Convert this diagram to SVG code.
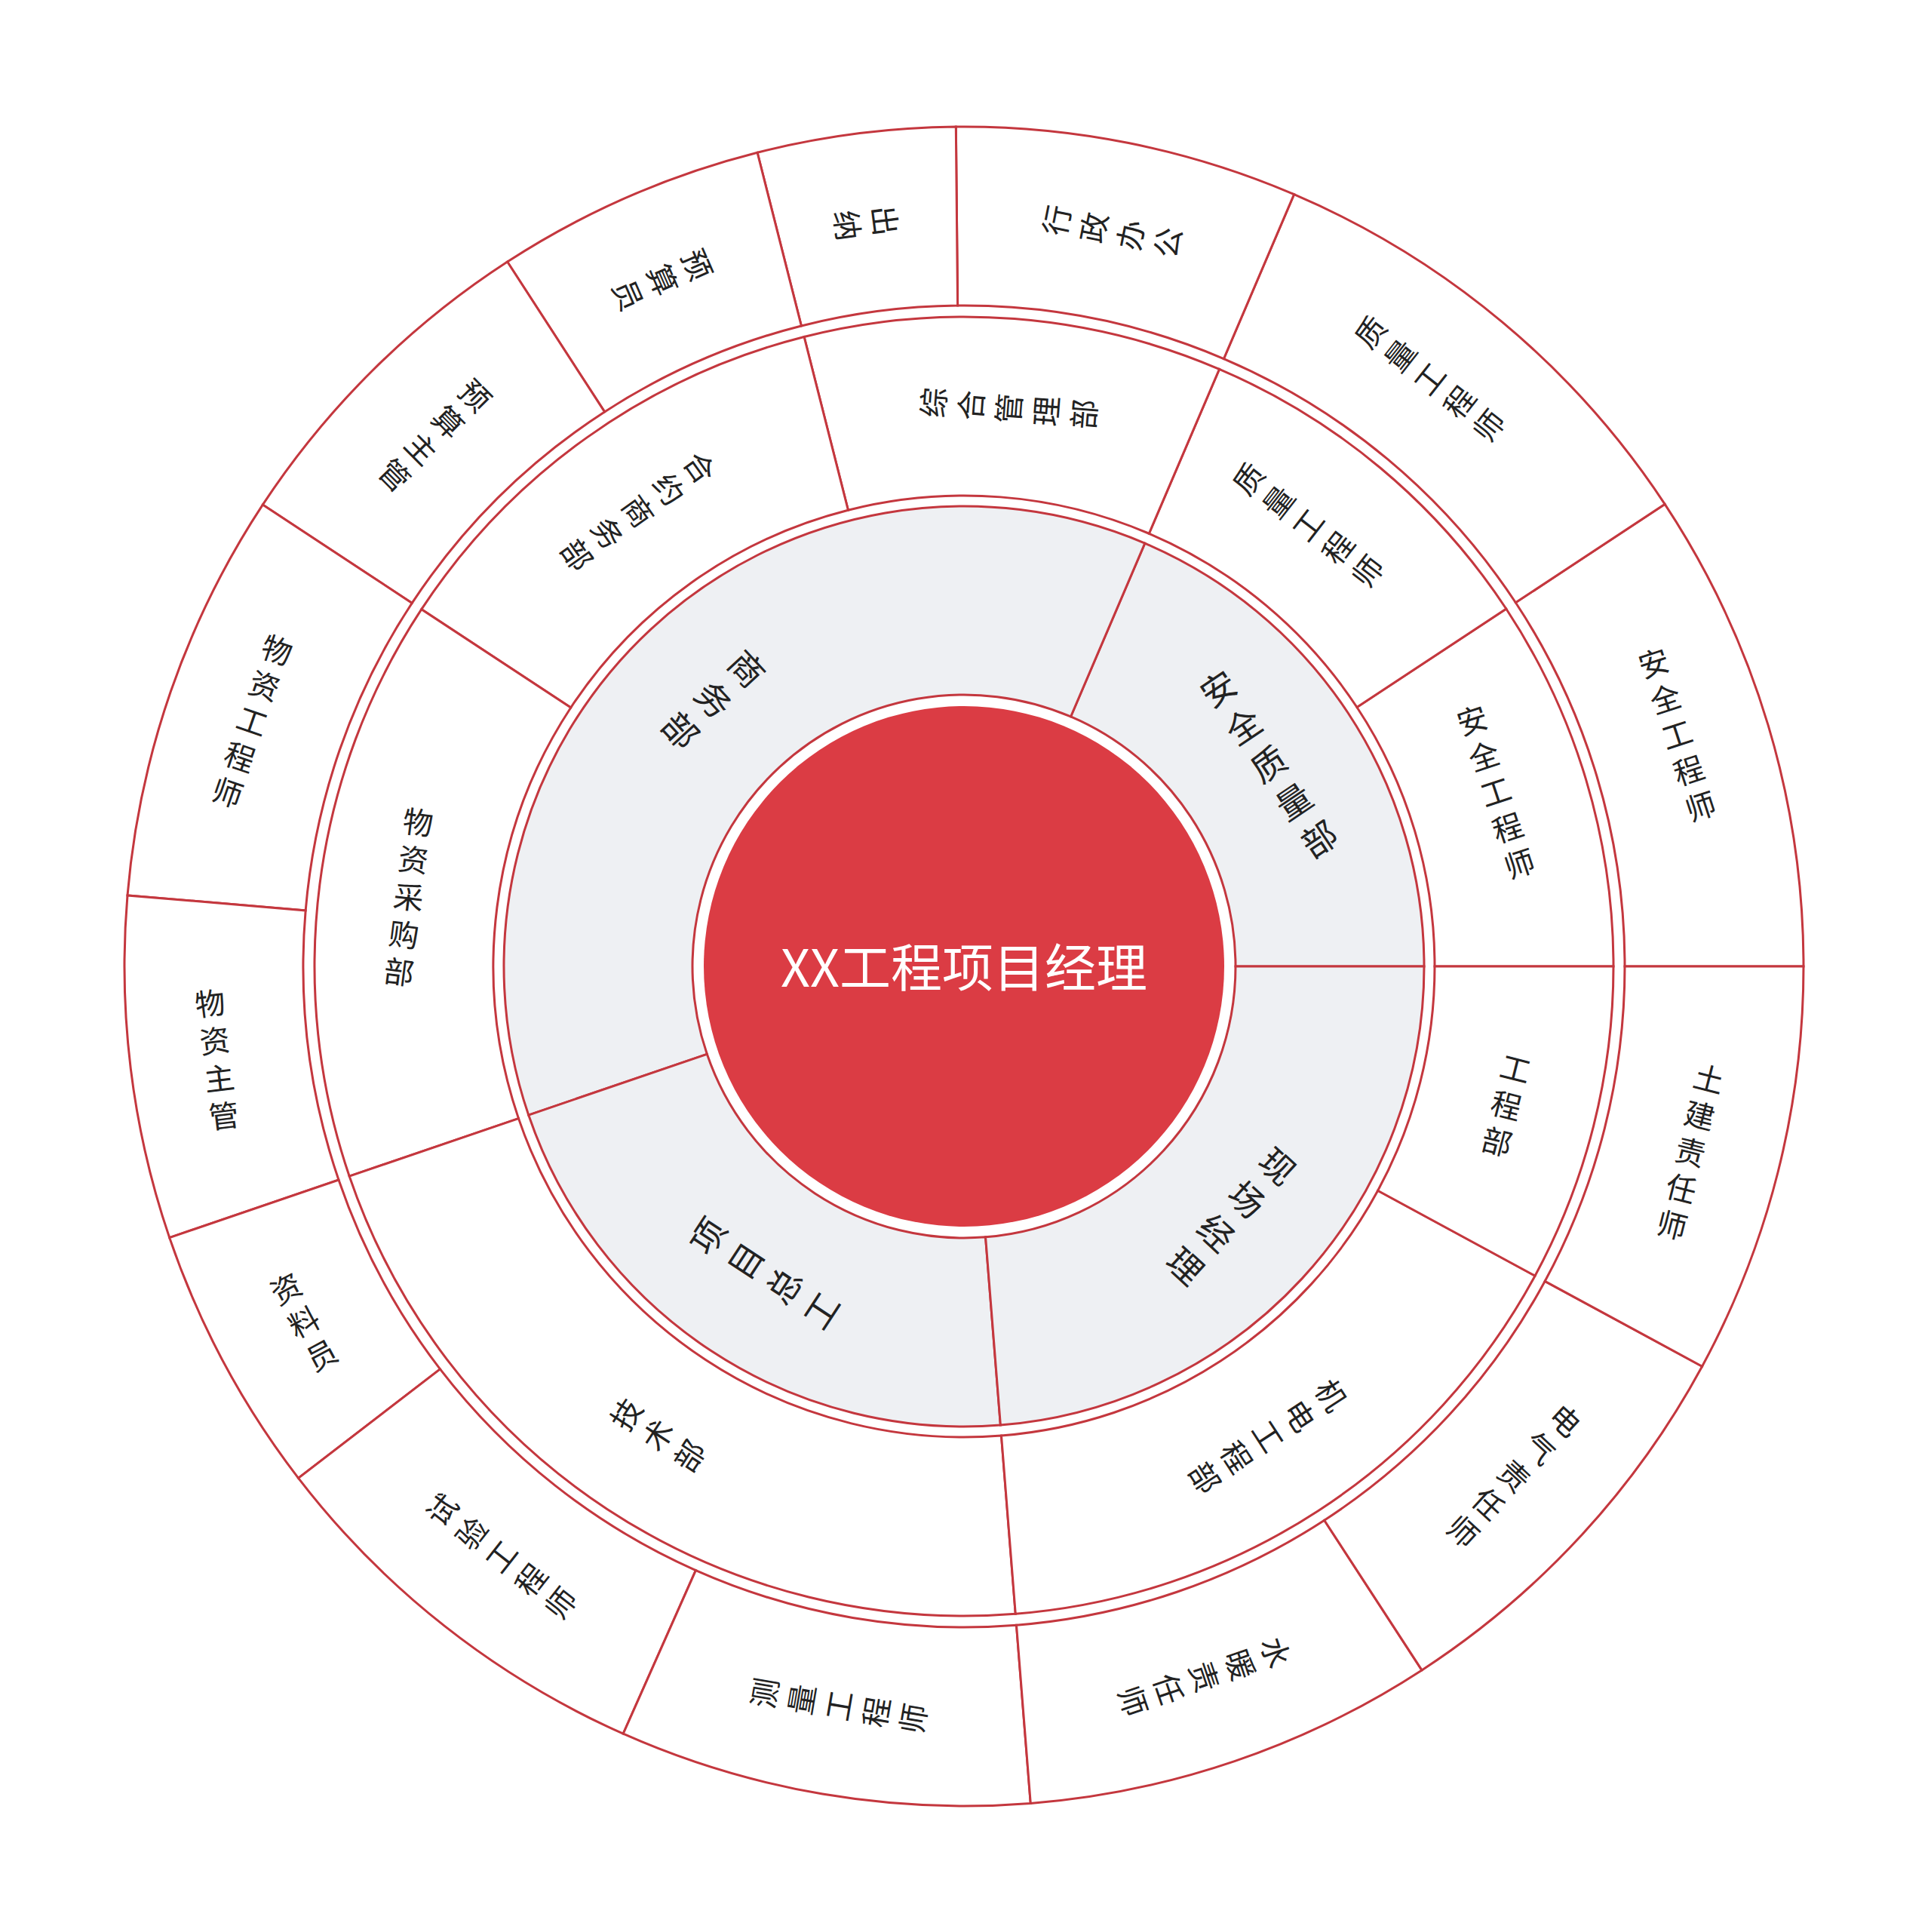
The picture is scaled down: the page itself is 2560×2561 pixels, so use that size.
<svg xmlns="http://www.w3.org/2000/svg" width="2560" height="2561" viewBox="0 0 2560 2561">
<style>
.bg{fill:#ffffff}
.s1{fill:#eef0f3;stroke:#c4373e;stroke-width:3}
.s2,.s3{fill:#ffffff;stroke:#c4373e;stroke-width:3}
.core{fill:#db3c44}
.t{font-family:"Noto Sans CJK SC","Noto Sans",sans-serif;fill:#222222;text-anchor:middle;dominant-baseline:central}
.t1{font-size:46px}
.t2,.t3{font-size:40px}
.tc{font-family:"Noto Sans CJK SC","Noto Sans",sans-serif;fill:#ffffff;font-size:68px;text-anchor:middle;dominant-baseline:central}
</style>
<rect class="bg" x="0" y="0" width="2560" height="2561"/>
<g id="ring1">
<g id="n-anquanzhiliangbu">
<path class="s1" d="M 1888 1281 A 610 610 0 0 0 1517.82 720.12 L 1419.53 949.99 A 360 360 0 0 1 1638 1281 Z"/>
<g transform="translate(1278 1281) rotate(-33.9) translate(485 0)"><text class="t t1"><tspan x="0" y="-120">安</tspan><tspan x="0" y="-60">全</tspan><tspan x="0" y="0">质</tspan><tspan x="0" y="60">量</tspan><tspan x="0" y="120">部</tspan></text></g>
</g>
<g id="n-shangwubu">
<path class="s1" d="M 1517.82 720.12 A 610 610 0 0 0 700.71 1478.09 L 937.31 1397.32 A 360 360 0 0 1 1419.53 949.99 Z"/>
<g transform="translate(1278 1281) rotate(-132.85) translate(485 0) rotate(180)"><text class="t t1"><tspan x="0" y="-60">商</tspan><tspan x="0" y="0">务</tspan><tspan x="0" y="60">部</tspan></text></g>
</g>
<g id="n-xiangmuzonggong">
<path class="s1" d="M 700.71 1478.09 A 610 610 0 0 0 1326.39 1889.08 L 1306.56 1639.87 A 360 360 0 0 1 937.31 1397.32 Z"/>
<g transform="translate(1278 1281) rotate(-236.7) translate(485 0) rotate(180)"><text class="t t1"><tspan x="0" y="-90">项</tspan><tspan x="0" y="-30">目</tspan><tspan x="0" y="30">总</tspan><tspan x="0" y="90">工</tspan></text></g>
</g>
<g id="n-xianchangjingli">
<path class="s1" d="M 1326.39 1889.08 A 610 610 0 0 0 1888 1281 L 1638 1281 A 360 360 0 0 1 1306.56 1639.87 Z"/>
<g transform="translate(1278 1281) rotate(-317.275) translate(485 0)"><text class="t t1"><tspan x="0" y="-90">现</tspan><tspan x="0" y="-30">场</tspan><tspan x="0" y="30">经</tspan><tspan x="0" y="90">理</tspan></text></g>
</g>
</g>
<g id="ring2">
<g id="n-anquangongchengshi-2">
<path class="s2" d="M 2139 1281 A 861 861 0 0 0 1996.81 807.04 L 1798.95 937.5 A 624 624 0 0 1 1902 1281 Z"/>
<g transform="translate(1278 1281) rotate(-18.3) translate(742 0)"><text class="t t2"><tspan x="0" y="-100">安</tspan><tspan x="0" y="-50">全</tspan><tspan x="0" y="0">工</tspan><tspan x="0" y="50">程</tspan><tspan x="0" y="100">师</tspan></text></g>
</g>
<g id="n-zhilianggongchengshi-2">
<path class="s2" d="M 1996.81 807.04 A 861 861 0 0 0 1616.5 489.34 L 1523.33 707.25 A 624 624 0 0 1 1798.95 937.5 Z"/>
<g transform="translate(1278 1281) rotate(-52.2) translate(742 0)"><text class="t t2"><tspan x="0" y="-100">质</tspan><tspan x="0" y="-50">量</tspan><tspan x="0" y="0">工</tspan><tspan x="0" y="50">程</tspan><tspan x="0" y="100">师</tspan></text></g>
</g>
<g id="n-zongheguanlibu">
<path class="s2" d="M 1616.5 489.34 A 861 861 0 0 0 1066.06 446.48 L 1124.4 676.19 A 624 624 0 0 1 1523.33 707.25 Z"/>
<g transform="translate(1278 1281) rotate(-85.55) translate(742 0)"><text class="t t2"><tspan x="0" y="-100">综</tspan><tspan x="0" y="-50">合</tspan><tspan x="0" y="0">管</tspan><tspan x="0" y="50">理</tspan><tspan x="0" y="100">部</tspan></text></g>
</g>
<g id="n-heyueshangwubu">
<path class="s2" d="M 1066.06 446.48 A 861 861 0 0 0 558.77 807.66 L 756.75 937.95 A 624 624 0 0 1 1124.4 676.19 Z"/>
<g transform="translate(1278 1281) rotate(-125.45) translate(742 0) rotate(180)"><text class="t t2"><tspan x="0" y="-100">合</tspan><tspan x="0" y="-50">约</tspan><tspan x="0" y="0">商</tspan><tspan x="0" y="50">务</tspan><tspan x="0" y="100">部</tspan></text></g>
</g>
<g id="n-wuzicaigoubu">
<path class="s2" d="M 558.77 807.66 A 861 861 0 0 0 463.18 1559.19 L 687.47 1482.61 A 624 624 0 0 1 756.75 937.95 Z"/>
<g transform="translate(1278 1281) rotate(-172.75) translate(742 0) rotate(180)"><text class="t t2"><tspan x="0" y="-100">物</tspan><tspan x="0" y="-50">资</tspan><tspan x="0" y="0">采</tspan><tspan x="0" y="50">购</tspan><tspan x="0" y="100">部</tspan></text></g>
</g>
<g id="n-jishubu">
<path class="s2" d="M 463.18 1559.19 A 861 861 0 0 0 1346.3 2139.29 L 1327.5 1903.03 A 624 624 0 0 1 687.47 1482.61 Z"/>
<g transform="translate(1278 1281) rotate(-236.7) translate(742 0) rotate(180)"><text class="t t2"><tspan x="0" y="-50">技</tspan><tspan x="0" y="0">术</tspan><tspan x="0" y="50">部</tspan></text></g>
</g>
<g id="n-jidiangongchengbu">
<path class="s2" d="M 1346.3 2139.29 A 861 861 0 0 0 2035.03 1691.17 L 1826.65 1578.27 A 624 624 0 0 1 1327.5 1903.03 Z"/>
<g transform="translate(1278 1281) rotate(-303.05) translate(742 0)"><text class="t t2"><tspan x="0" y="-100">机</tspan><tspan x="0" y="-50">电</tspan><tspan x="0" y="0">工</tspan><tspan x="0" y="50">程</tspan><tspan x="0" y="100">部</tspan></text></g>
</g>
<g id="n-gongchengbu">
<path class="s2" d="M 2035.03 1691.17 A 861 861 0 0 0 2139 1281 L 1902 1281 A 624 624 0 0 1 1826.65 1578.27 Z"/>
<g transform="translate(1278 1281) rotate(-345.775) translate(742 0)"><text class="t t2"><tspan x="0" y="-50">工</tspan><tspan x="0" y="0">程</tspan><tspan x="0" y="50">部</tspan></text></g>
</g>
</g>
<g id="ring3">
<g id="n-anquangongchengshi-3">
<path class="s3" d="M 2391 1281 A 1113 1113 0 0 0 2207.19 668.32 L 2009.33 798.78 A 876 876 0 0 1 2154 1281 Z"/>
<g transform="translate(1278 1281) rotate(-18.1) translate(994 0)"><text class="t t3"><tspan x="0" y="-100">安</tspan><tspan x="0" y="-50">全</tspan><tspan x="0" y="0">工</tspan><tspan x="0" y="50">程</tspan><tspan x="0" y="100">师</tspan></text></g>
</g>
<g id="n-zhilianggongchengshi-3">
<path class="s3" d="M 2207.19 668.32 A 1113 1113 0 0 0 1715.58 257.63 L 1622.4 475.54 A 876 876 0 0 1 2009.33 798.78 Z"/>
<g transform="translate(1278 1281) rotate(-51.7) translate(994 0)"><text class="t t3"><tspan x="0" y="-100">质</tspan><tspan x="0" y="-50">量</tspan><tspan x="0" y="0">工</tspan><tspan x="0" y="50">程</tspan><tspan x="0" y="100">师</tspan></text></g>
</g>
<g id="n-xingzhengbangong">
<path class="s3" d="M 1715.58 257.63 A 1113 1113 0 0 0 1267.32 168.06 L 1269.59 405.04 A 876 876 0 0 1 1622.4 475.54 Z"/>
<g transform="translate(1278 1281) rotate(-78.7) translate(994 0)"><text class="t t3"><tspan x="0" y="-75">行</tspan><tspan x="0" y="-25">政</tspan><tspan x="0" y="25">办</tspan><tspan x="0" y="75">公</tspan></text></g>
</g>
<g id="n-chuna">
<path class="s3" d="M 1267.32 168.06 A 1113 1113 0 0 0 1004.04 202.24 L 1062.37 431.95 A 876 876 0 0 1 1269.59 405.04 Z"/>
<g transform="translate(1278 1281) rotate(-97.4) translate(994 0) rotate(180)"><text class="t t3"><tspan x="0" y="-25">出</tspan><tspan x="0" y="25">纳</tspan></text></g>
</g>
<g id="n-yusuanyuan">
<path class="s3" d="M 1004.04 202.24 A 1113 1113 0 0 0 672.63 347.03 L 801.53 545.9 A 876 876 0 0 1 1062.37 431.95 Z"/>
<g transform="translate(1278 1281) rotate(-113.6) translate(994 0) rotate(180)"><text class="t t3"><tspan x="0" y="-50">预</tspan><tspan x="0" y="0">算</tspan><tspan x="0" y="50">员</tspan></text></g>
</g>
<g id="n-yusuanzhuguan">
<path class="s3" d="M 672.63 347.03 A 1113 1113 0 0 0 348.27 669.12 L 546.24 799.41 A 876 876 0 0 1 801.53 545.9 Z"/>
<g transform="translate(1278 1281) rotate(-134.8) translate(994 0) rotate(180)"><text class="t t3"><tspan x="0" y="-75">预</tspan><tspan x="0" y="-25">算</tspan><tspan x="0" y="25">主</tspan><tspan x="0" y="75">管</tspan></text></g>
</g>
<g id="n-wuzigongchengshi">
<path class="s3" d="M 348.27 669.12 A 1113 1113 0 0 0 168.98 1186.9 L 405.14 1206.93 A 876 876 0 0 1 546.24 799.41 Z"/>
<g transform="translate(1278 1281) rotate(-160.9) translate(998 0) rotate(180)"><text class="t t3"><tspan x="0" y="-100">物</tspan><tspan x="0" y="-50">资</tspan><tspan x="0" y="0">工</tspan><tspan x="0" y="50">程</tspan><tspan x="0" y="100">师</tspan></text></g>
</g>
<g id="n-wuzizhuguan">
<path class="s3" d="M 168.98 1186.9 A 1113 1113 0 0 0 224.69 1640.61 L 448.98 1564.04 A 876 876 0 0 1 405.14 1206.93 Z"/>
<g transform="translate(1278 1281) rotate(-187) translate(998 0) rotate(180)"><text class="t t3"><tspan x="0" y="-75">物</tspan><tspan x="0" y="-25">资</tspan><tspan x="0" y="25">主</tspan><tspan x="0" y="75">管</tspan></text></g>
</g>
<g id="n-ziliaoyuan">
<path class="s3" d="M 224.69 1640.61 A 1113 1113 0 0 0 395.58 1959.33 L 583.48 1814.89 A 876 876 0 0 1 448.98 1564.04 Z"/>
<g transform="translate(1278 1281) rotate(-208.2) translate(994 0) rotate(180)"><text class="t t3"><tspan x="0" y="-50">资</tspan><tspan x="0" y="0">料</tspan><tspan x="0" y="50">员</tspan></text></g>
</g>
<g id="n-shiyangongchengshi">
<path class="s3" d="M 395.58 1959.33 A 1113 1113 0 0 0 826.19 2298.18 L 922.4 2081.59 A 876 876 0 0 1 583.48 1814.89 Z"/>
<g transform="translate(1278 1281) rotate(-231.8) translate(994 0) rotate(180)"><text class="t t3"><tspan x="0" y="-100">试</tspan><tspan x="0" y="-50">验</tspan><tspan x="0" y="0">工</tspan><tspan x="0" y="50">程</tspan><tspan x="0" y="100">师</tspan></text></g>
</g>
<g id="n-celianggongchengshi">
<path class="s3" d="M 826.19 2298.18 A 1113 1113 0 0 0 1366.29 2390.49 L 1347.49 2154.24 A 876 876 0 0 1 922.4 2081.59 Z"/>
<g transform="translate(1278 1281) rotate(-260.3) translate(994 0) rotate(180)"><text class="t t3"><tspan x="0" y="-100">测</tspan><tspan x="0" y="-50">量</tspan><tspan x="0" y="0">工</tspan><tspan x="0" y="50">程</tspan><tspan x="0" y="100">师</tspan></text></g>
</g>
<g id="n-shuinuanzerenshi">
<path class="s3" d="M 1366.29 2390.49 A 1113 1113 0 0 0 1885 2213.91 L 1755.74 2015.25 A 876 876 0 0 1 1347.49 2154.24 Z"/>
<g transform="translate(1278 1281) rotate(-288.8) translate(994 0)"><text class="t t3"><tspan x="0" y="-100">水</tspan><tspan x="0" y="-50">暖</tspan><tspan x="0" y="0">责</tspan><tspan x="0" y="50">任</tspan><tspan x="0" y="100">师</tspan></text></g>
</g>
<g id="n-dianqizerenshi">
<path class="s3" d="M 1885 2213.91 A 1113 1113 0 0 0 2256.59 1811.22 L 2048.21 1698.32 A 876 876 0 0 1 1755.74 2015.25 Z"/>
<g transform="translate(1278 1281) rotate(-317.3) translate(994 0)"><text class="t t3"><tspan x="0" y="-100">电</tspan><tspan x="0" y="-50">气</tspan><tspan x="0" y="0">责</tspan><tspan x="0" y="50">任</tspan><tspan x="0" y="100">师</tspan></text></g>
</g>
<g id="n-tujianzerenshi">
<path class="s3" d="M 2256.59 1811.22 A 1113 1113 0 0 0 2391 1281 L 2154 1281 A 876 876 0 0 1 2048.21 1698.32 Z"/>
<g transform="translate(1278 1281) rotate(-345.775) translate(994 0)"><text class="t t3"><tspan x="0" y="-100">土</tspan><tspan x="0" y="-50">建</tspan><tspan x="0" y="0">责</tspan><tspan x="0" y="50">任</tspan><tspan x="0" y="100">师</tspan></text></g>
</g>
</g>
<g id="n-root">
<circle class="core" cx="1278" cy="1281" r="345"/>
<text class="tc" x="1278" y="1278">XX工程项目经理</text>
</g>
<g id="connectors"></g>
</svg>
